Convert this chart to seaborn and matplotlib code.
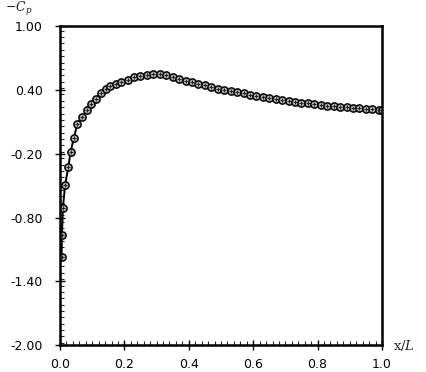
import numpy as np
import pandas as pd
import matplotlib
matplotlib.use("Agg")
import matplotlib.pyplot as plt
import seaborn as sns
from matplotlib.ticker import MultipleLocator, FixedLocator, FixedFormatter

x_over_L = [0.005, 0.006, 0.009, 0.016, 0.026, 0.033, 0.043, 0.054, 0.069, 0.083,
            0.096, 0.111, 0.127, 0.142, 0.155, 0.173, 0.19, 0.21, 0.23, 0.25,
            0.27, 0.29, 0.31, 0.33, 0.35, 0.37, 0.39, 0.41, 0.43, 0.45,
            0.47, 0.49, 0.51, 0.53, 0.55, 0.57, 0.59, 0.61, 0.63, 0.65,
            0.67, 0.69, 0.71, 0.73, 0.75, 0.77, 0.79, 0.81, 0.83, 0.85,
            0.87, 0.89, 0.91, 0.93, 0.95, 0.97, 0.99, 1.0]
minus_cp = [-1.17, -0.96, -0.71, -0.49, -0.32, -0.18, -0.05, 0.085, 0.15, 0.21,
            0.27, 0.32, 0.375, 0.41, 0.44, 0.46, 0.48, 0.50, 0.52, 0.535,
            0.545, 0.55, 0.55, 0.54, 0.525, 0.51, 0.49, 0.475, 0.46, 0.445,
            0.43, 0.415, 0.405, 0.39, 0.38, 0.37, 0.355, 0.345, 0.335, 0.325,
            0.315, 0.305, 0.295, 0.29, 0.28, 0.275, 0.27, 0.26, 0.255, 0.25,
            0.245, 0.24, 0.235, 0.23, 0.225, 0.22, 0.215, 0.21]

x_ticks = [0.0, 0.2, 0.4, 0.6, 0.8, 1.0]
x_ticklabels = ["0.0", "0.2", "0.4", "0.6", "0.8", "1.0"]
y_ticks = [1.0, 0.4, -0.2, -0.8, -1.4, -2.0]
y_ticklabels = ["1.00", "0.40", "-0.20", "-0.80", "-1.40", "-2.00"]

df = pd.DataFrame({"x": x_over_L, "cp": minus_cp})

sns.set_style("ticks")
plt.rcParams["font.family"] = ["DejaVu Sans"]
plt.rcParams["mathtext.fontset"] = "dejavuserif"

fig = plt.figure(figsize=(4.27, 3.72), dpi=100)
ax = fig.add_axes([0.1405, 0.0726, 0.7541, 0.8562])

sns.lineplot(data=df, x="x", y="cp", ax=ax, color="black", linewidth=1.4,
             marker="o", markersize=5.2, markerfacecolor="#bbbbbb",
             markeredgecolor="black", markeredgewidth=1.1)
sns.scatterplot(data=df, x="x", y="cp", ax=ax, marker="+", s=10,
                color="#222222", linewidth=0.8, zorder=5)

ax.set_xlim(0.0, 1.0)
ax.set_ylim(-2.0, 1.0)
ax.xaxis.set_major_locator(FixedLocator(x_ticks))
ax.xaxis.set_major_formatter(FixedFormatter(x_ticklabels))
ax.yaxis.set_major_locator(FixedLocator(y_ticks))
ax.yaxis.set_major_formatter(FixedFormatter(y_ticklabels))
ax.xaxis.set_minor_locator(MultipleLocator(0.02))
ax.yaxis.set_minor_locator(MultipleLocator(0.06))

for s in ax.spines.values():
    s.set_linewidth(1.8)
    s.set_color("black")

ax.tick_params(which="major", direction="inout", length=7, width=1.0,
               labelsize=9, colors="black")
ax.tick_params(which="minor", direction="in", length=3, width=0.8)
ax.tick_params(axis="y", which="major", pad=9)
ax.tick_params(axis="x", which="major", pad=6)

ax.set_xlabel("")
ax.set_ylabel("")
fig.text(0.012, 0.975, r"$-C_p$", fontsize=9, ha="left", va="center")
fig.text(0.92, 0.072, r"$\mathrm{x}/L$", fontsize=9.5, ha="left", va="center")

fig.savefig("out.png", dpi=100)
